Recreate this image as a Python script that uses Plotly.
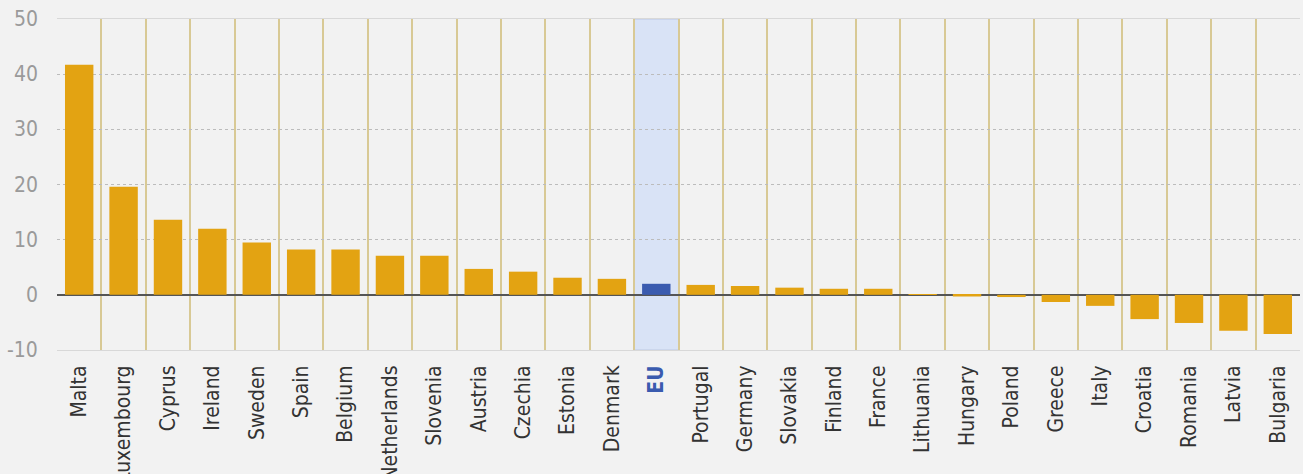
import plotly.graph_objects as go

countries = ["Malta", "Luxembourg", "Cyprus", "Ireland", "Sweden", "Spain", "Belgium",
             "Netherlands", "Slovenia", "Austria", "Czechia", "Estonia", "Denmark", "EU",
             "Portugal", "Germany", "Slovakia", "Finland", "France", "Lithuania", "Hungary",
             "Poland", "Greece", "Italy", "Croatia", "Romania", "Latvia", "Bulgaria"]
values = [41.7, 19.6, 13.6, 12.0, 9.5, 8.2, 8.2, 7.1, 7.1, 4.7, 4.2, 3.1, 2.9, 2.0,
          1.8, 1.6, 1.3, 1.1, 1.1, 0.1, -0.3, -0.4, -1.3, -2.0, -4.4, -5.1, -6.5, -7.1]
highlight = "EU"
y_ticks = [-10, 0, 10, 20, 30, 40, 50]
y_ticklabels = ["-10", "0", "10", "20", "30", "40", "50"]

GOLD = "#E3A312"
BLUE = "#3A5BAF"
FONT = "Liberation Sans Narrow, DejaVu Sans Condensed, Arial Narrow, sans-serif"

colors = [BLUE if c == highlight else GOLD for c in countries]
ticktext = [f"<b><span style='color:{BLUE}'>{c}</span></b>" if c == highlight else c
            for c in countries]

fig = go.Figure()
fig.add_trace(go.Bar(x=countries, y=values, marker=dict(color=colors, line=dict(width=0)),
                     width=0.64, hoverinfo="x+y"))

hi = countries.index(highlight)
fig.add_shape(type="rect", xref="x", yref="paper", x0=hi - 0.5, x1=hi + 0.5, y0=0, y1=1,
              fillcolor="rgba(200,216,248,0.6)", line=dict(color="rgba(170,185,215,0.6)", width=1),
              layer="below")

# y tick labels as annotations, placed through the y scale
for v, t in zip(y_ticks, y_ticklabels):
    fig.add_annotation(x=0, xref="paper", y=v, yref="y", text=t, showarrow=False,
                       xanchor="right", yanchor="middle", xshift=-17,
                       font=dict(family=FONT, size=21, color="#9a9a9a"))

fig.update_layout(
    width=1303, height=474,
    margin=dict(l=57, r=3, t=19, b=124),
    paper_bgcolor="#f2f2f2", plot_bgcolor="#f2f2f2",
    showlegend=False,
    font=dict(family=FONT, size=21, color="#333333"),
    xaxis=dict(
        type="category", tickmode="array", tickvals=countries, ticktext=ticktext,
        tickangle=-90, tickson="boundaries", showgrid=True, gridcolor="#d8c995", gridwidth=1.5,
        ticks="", ticklabelstandoff=6, automargin=False,
        showline=True, mirror=True, linecolor="#d8d8d8", linewidth=1,
        tickfont=dict(family=FONT, size=21, color="#333333"),
        range=[-0.5, len(countries) - 0.5],
    ),
    yaxis=dict(
        range=[-10, 50], tickmode="array", tickvals=y_ticks, showticklabels=False,
        showgrid=True, gridcolor="#bcbcbc",
        griddash="dot", gridwidth=1, zeroline=True, zerolinecolor="#555555",
        zerolinewidth=1.8, ticks="", automargin=False,
    ),
)

fig.write_html("out.html")
